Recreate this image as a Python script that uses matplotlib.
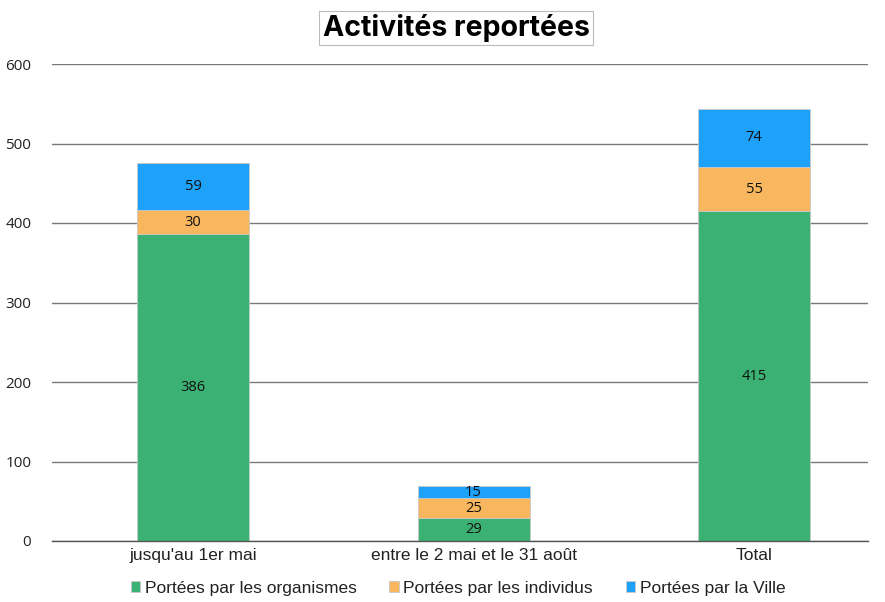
import matplotlib
matplotlib.use("Agg")
import matplotlib.pyplot as plt
import numpy as np

categories = ["jusqu'au 1er mai", "entre le 2 mai et le 31 août", "Total"]
series_names = ["Portées par les organismes", "Portées par les individus", "Portées par la Ville"]
organismes = [386, 29, 415]
individus = [30, 25, 55]
ville = [59, 15, 74]
yticks = [0, 100, 200, 300, 400, 500, 600]

colors = ["#3BB273", "#F8B75E", "#1DA1F9"]

plt.rcParams['font.family'] = ['Open Sans', 'DejaVu Sans']
sans2 = ["Liberation Sans", "DejaVu Sans"]

fig = plt.figure(figsize=(8.85, 6.02), dpi=100)
ax = fig.add_axes([52/885, 1-541/602, (868-52)/885, (541-64)/602])

x = np.arange(len(categories))
width = 0.4
bottom = np.zeros(len(categories))
handles = []
for vals, col, name in zip([organismes, individus, ville], colors, series_names):
    bars = ax.bar(x, vals, width, bottom=bottom, color=col, edgecolor="#c8c8c8", linewidth=0.6, label=name, zorder=3)
    for xi, v, b in zip(x, vals, bottom):
        ax.text(xi, b + v/2, str(v), ha="center", va="center", fontsize=10.5, color="#111111", zorder=4)
    bottom = bottom + np.array(vals)
    handles.append(bars)

ax.set_xlim(-0.503, 2.406)
ax.set_ylim(0, 600)
ax.set_yticks(yticks)
ax.set_yticklabels([str(t) for t in yticks], fontsize=11, color="#222222")
ax.set_xticks(x)
ax.set_xticklabels(categories, fontsize=12.5, color="#222222", family=sans2)
ax.tick_params(axis="both", length=0, pad=5)
ax.tick_params(axis="y", pad=15)
ax.grid(axis="y", color="#7a7a7a", linewidth=1.0, zorder=0)
for s in ["top", "right", "left"]:
    ax.spines[s].set_visible(False)
ax.spines["bottom"].set_color("#555555")
ax.spines["bottom"].set_linewidth(1.0)
ax.spines["bottom"].set_zorder(5)

fig.text(456/885, 1-28/602, "Activités reportées", ha="center", va="center", fontsize=20.5, fontweight="bold",
         family=["Inter", "DejaVu Sans"],
         bbox=dict(boxstyle="square,pad=0.12", facecolor="white", edgecolor="#bbbbbb", linewidth=0.8))

leg = fig.legend(handles=handles, labels=series_names, loc="center", bbox_to_anchor=(458/885, 1-588/602),
                 ncol=3, frameon=False, prop={"family": sans2, "size": 12.5}, handlelength=0.55, handleheight=0.55,
                 handletextpad=0.25, columnspacing=1.9, labelcolor="#222222")

fig.savefig("out.png", dpi=100)
